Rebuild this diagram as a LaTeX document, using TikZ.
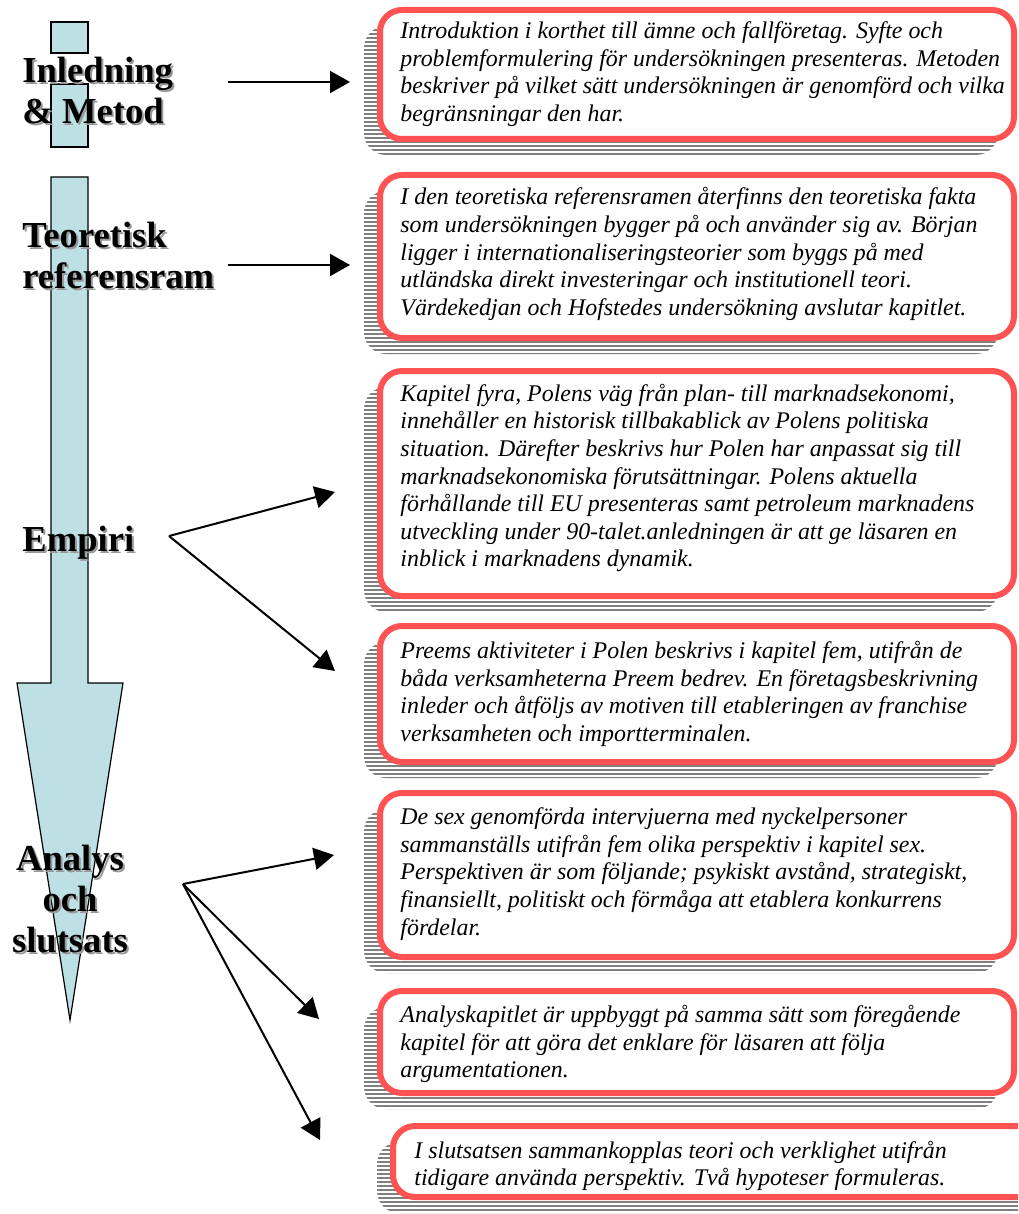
\documentclass[tikz,border=0pt]{standalone}
\usepackage{fontspec}
\setmainfont{Liberation Serif}
\usepackage{xcolor}
\usetikzlibrary{arrows.meta, shadows, patterns.meta}

\definecolor{arrowblue}{RGB}{189,224,228}
\definecolor{boxred}{RGB}{255,82,82}
\newcommand{\shadowed}[1]{\makebox[0pt][l]{\hspace{1pt}\raisebox{-1pt}{\color{black!40}#1}}#1}

\tikzset{
    chapter/.style={inner sep=0pt, font=\fontsize{18.3}{20.5}\selectfont\bfseries},
    summary/.style={draw=boxred, line width=3pt, fill=white, rounded corners=11pt,
        inner sep=0pt, minimum width=317pt,
        general shadow={shadow xshift=-8pt, shadow yshift=-8pt,
            pattern={Lines[angle=0, distance=2pt, line width=1.45pt]}, pattern color=gray}},
    summarytext/.style={inner sep=0pt, anchor=west, align=left,
        font=\fontsize{11.95}{13.8}\selectfont\itshape},
}

\begin{document}
\begin{tikzpicture}[x=0.5pt, y=-0.5pt, >={Triangle[length=10pt, width=11pt]}]
    \useasboundingbox (0,0) rectangle (1018,1214);
    \clip (0,0) rectangle (1018,1214);

    \draw[fill=arrowblue, line width=0.6pt] (51,22) rectangle (88,53);
    \draw[fill=arrowblue, line width=0.6pt] (51,84) rectangle (88,147);
    \draw[fill=arrowblue, line width=0.6pt] (51,177) -- (88,177) -- (88,683) -- (123,683)
        -- (70,1020) -- (17,683) -- (51,683) -- cycle;

    \node[chapter, anchor=north west, align=left] (inl) at (22,57) {\shadowed{Inledning}\\\shadowed{\& Metod}};
    \node[chapter, anchor=north west, align=left] (teo) at (22,222) {\shadowed{Teoretisk}\\\shadowed{referensram}};
    \node[chapter, anchor=north west] (emp) at (22,526) {\shadowed{Empiri}};
    \node[chapter, anchor=north, align=center] (ana) at (70,845) {\shadowed{Analys}\\\shadowed{och}\\\shadowed{slutsats}};

    \node[summary, minimum height=64.5pt] (b1) at (697,74.5) {};
    \node[summary, minimum height=81.5pt] (b2) at (697,256.5) {};
    \node[summary, minimum height=112.5pt] (b3) at (697,483.5) {};
    \node[summary, minimum height=68pt] (b4) at (697,694) {};
    \node[summary, minimum height=82pt] (b5) at (697,875) {};
    \node[summary, minimum height=51pt] (b6) at (697,1042) {};
    \node[summary, minimum height=35.5pt, minimum width=328.5pt] (b7) at (721.5,1161.5) {};

    \node[summarytext] (t1) at (400,74) {Introduktion i korthet till ämne och fallföretag. Syfte och\\
        problemformulering för undersökningen presenteras. Metoden\\
        beskriver på vilket sätt undersökningen är genomförd och vilka\\
        begränsningar den har.};
    \node[summarytext] (t2) at (400,254) {I den teoretiska referensramen återfinns den teoretiska fakta\\
        som undersökningen bygger på och använder sig av. Början\\
        ligger i internationaliseringsteorier som byggs på med\\
        utländska direkt investeringar och institutionell teori.\\
        Värdekedjan och Hofstedes undersökning avslutar kapitlet.};
    \node[summarytext] (t3) at (400,478) {Kapitel fyra, Polens väg från plan- till marknadsekonomi,\\
        innehåller en historisk tillbakablick av Polens politiska\\
        situation. Därefter beskrivs hur Polen har anpassat sig till\\
        marknadsekonomiska förutsättningar. Polens aktuella\\
        förhållande till EU presenteras samt petroleum marknadens\\
        utveckling under 90-talet.anledningen är att ge läsaren en\\
        inblick i marknadens dynamik.};
    \node[summarytext] (t4) at (400,694) {Preems aktiviteter i Polen beskrivs i kapitel fem, utifrån de\\
        båda verksamheterna Preem bedrev. En företagsbeskrivning\\
        inleder och åtföljs av motiven till etableringen av franchise\\
        verksamheten och importterminalen.};
    \node[summarytext] (t5) at (400,874) {De sex genomförda intervjuerna med nyckelpersoner\\
        sammanställs utifrån fem olika perspektiv i kapitel sex.\\
        Perspektiven är som följande; psykiskt avstånd, strategiskt,\\
        finansiellt, politiskt och förmåga att etablera konkurrens\\
        fördelar.};
    \node[summarytext] (t6) at (400,1044) {Analyskapitlet är uppbyggt på samma sätt som föregående\\
        kapitel för att göra det enklare för läsaren att följa\\
        argumentationen.};
    \node[summarytext] (t7) at (414,1166) {I slutsatsen sammankopplas teori och verklighet utifrån\\
        tidigare använda perspektiv. Två hypoteser formuleras.};

    \coordinate (inlS) at (228,82);
    \coordinate (inlE) at (350,82);
    \coordinate (teoS) at (228,265);
    \coordinate (teoE) at (350,265);
    \coordinate (empS) at (169,536);
    \coordinate (empE1) at (335,492);
    \coordinate (empE2) at (335,671);
    \coordinate (anaS) at (183,884);
    \coordinate (anaE1) at (334,855);
    \coordinate (anaE2) at (319,1019);
    \coordinate (anaE3) at (320,1140);

    \draw[->, line width=1pt] (inlS) -- (inlE);
    \draw[->, line width=1pt] (teoS) -- (teoE);
    \draw[->, line width=1pt] (empS) -- (empE1);
    \draw[->, line width=1pt] (empS) -- (empE2);
    \draw[->, line width=1pt] (anaS) -- (anaE1);
    \draw[->, line width=1pt] (anaS) -- (anaE2);
    \draw[->, line width=1pt] (anaS) -- (anaE3);
\end{tikzpicture}
\end{document}
